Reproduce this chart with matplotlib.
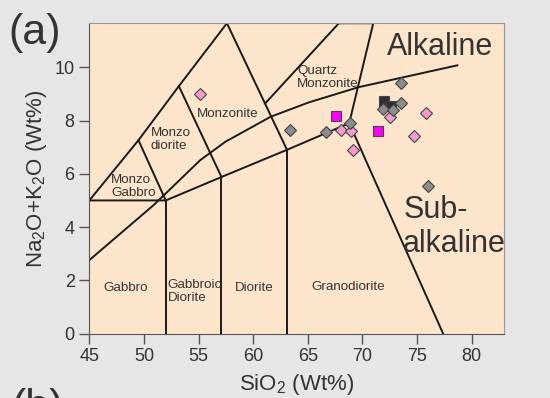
import matplotlib.pyplot as plt

plt.rcParams['font.family'] = ['Liberation Sans', 'DejaVu Sans']
plt.rcParams['mathtext.default'] = 'regular'

# Field boundaries, SiO2 vs Na2O+K2O (wt%)
irvine_x = [45.0, 50.9, 55.15, 57.45, 61.6, 65.1, 69.65, 78.7]
irvine_y = [2.76, 4.83, 6.51, 7.2, 8.14, 8.68, 9.25, 10.07]

outer_x = [45.0, 49.5, 53.2, 57.6]
outer_y = [5.0, 7.26, 9.29, 11.65]

lower_x = [45.0, 52.0, 57.1, 63.1, 68.8]
lower_y = [5.0, 5.0, 5.88, 6.9, 7.9]

mgab_x, mgab_y = [49.5, 52.0], [7.26, 5.0]
mdio_x, mdio_y = [53.2, 57.1], [9.29, 5.88]
monz_x, monz_y = [57.6, 63.1], [11.65, 6.9]
qmonz_x = [61.1, 67.85, 71.0, 68.8, 77.4]
qmonz_y = [8.64, 11.65, 11.65, 7.9, 0.0]

verticals = [52.0, 57.1, 63.1]
vertical_tops = [5.0, 5.88, 6.9]

# Samples
pink_x = [55.15, 68.05, 68.95, 69.13, 72.51, 75.83, 74.77]
pink_y = [9.01, 7.66, 7.6, 6.89, 8.12, 8.29, 7.43]

magenta_x = [67.62, 71.41]
magenta_y = [8.17, 7.6]

black_x = [72.02, 72.62]
black_y = [8.72, 8.54]

gray_x = [63.4, 66.64, 68.9, 73.55, 73.55, 71.9, 72.82, 76.03]
gray_y = [7.64, 7.56, 7.9, 9.39, 8.64, 8.45, 8.39, 5.54]

txt = '#333333'
fig = plt.figure(figsize=(5.5, 3.98), dpi=100, facecolor='#e6e6e6')
ax = fig.add_axes([0.1624, 0.1616, 0.7545, 0.78])
ax.set_facecolor('#fde5cb')

lw = 1.4
for xs, ys in [(irvine_x, irvine_y), (outer_x, outer_y), (lower_x, lower_y),
               (mgab_x, mgab_y), (mdio_x, mdio_y), (monz_x, monz_y),
               (qmonz_x, qmonz_y)]:
    ax.plot(xs, ys, color='#1a1a1a', lw=lw, zorder=2)
for xv, top in zip(verticals, vertical_tops):
    ax.plot([xv, xv], [0, top], color='#1a1a1a', lw=lw, zorder=2)

mk = dict(markeredgecolor='#444444', markeredgewidth=0.8, linestyle='none', zorder=3)
ax.plot(pink_x, pink_y, 'D', color='#f79ad0', markersize=6.3, **mk)
ax.plot(magenta_x, magenta_y, 's', color='#ff00ff', markersize=6.5, **mk)
ax.plot(black_x, black_y, 's', color='#2e2e2e', markersize=6.5, **mk)
ax.plot(gray_x, gray_y, 'D', color='#8c8c8c', markersize=6.3, **mk)

# field names
fs = 9.6
ax.text(57.67, 8.23, 'Monzonite', fontsize=fs, color=txt, ha='center', va='center')
ax.text(50.63, 7.3, 'Monzo\ndiorite', fontsize=fs, color=txt, ha='left', va='center', linespacing=1.1)
ax.text(46.99, 5.54, 'Monzo\nGabbro', fontsize=fs, color=txt, ha='left', va='center', linespacing=1.1)
ax.text(64.02, 9.61, 'Quartz\nMonzonite', fontsize=fs, color=txt, ha='left', va='center', linespacing=1.1)
ax.text(48.35, 1.72, 'Gabbro', fontsize=fs, color=txt, ha='center', va='center')
ax.text(52.19, 1.59, 'Gabbroic\nDiorite', fontsize=fs, color=txt, ha='left', va='center', linespacing=1.1)
ax.text(60.06, 1.7, 'Diorite', fontsize=fs, color=txt, ha='center', va='center')
ax.text(68.69, 1.76, 'Granodiorite', fontsize=fs, color=txt, ha='center', va='center')

ax.text(77.16, 10.45, 'Alkaline', fontsize=22, color=txt, ha='center', va='baseline')
ax.text(73.74, 4.33, 'Sub-', fontsize=22, color=txt, ha='left', va='baseline')
ax.text(73.74, 3.07, 'alkaline', fontsize=22, color=txt, ha='left', va='baseline')

ax.set_xlim(45, 83)
ax.set_ylim(0, 11.65)
ax.set_xticks([45, 50, 55, 60, 65, 70, 75, 80])
ax.set_yticks([0, 2, 4, 6, 8, 10])
ax.tick_params(direction='out', length=7, width=1, color='#555555',
               labelsize=13, labelcolor=txt, pad=3.5)
for side in ['left', 'bottom']:
    ax.spines[side].set_color('#555555')
for side in ['top', 'right']:
    ax.spines[side].set_color('#999999')

ax.set_xlabel(r'SiO$_2$ (Wt%)', fontsize=16, color=txt, labelpad=5)
ax.set_ylabel(r'Na$_2$O+K$_2$O (Wt%)', fontsize=16, color=txt, labelpad=4)

fig.text(8 / 550, 1 - 33 / 398, '(a)', fontsize=31, color=txt, ha='left', va='center')
fig.text(11 / 550, 1 - 419 / 398, '(b)', fontsize=31, color=txt, ha='left', va='baseline')

fig.savefig('out.png', dpi=100, facecolor=fig.get_facecolor())
